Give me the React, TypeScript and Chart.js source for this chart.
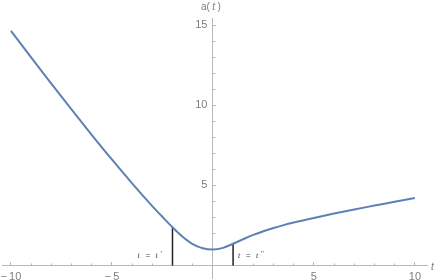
import React, { useEffect, useRef } from "react";
import { Chart, registerables } from "chart.js";

Chart.register(...registerables);

// curve a(t)
const tValues = [-10, -9, -8, -7, -6, -5, -4, -3, -2.5, -2, -1.5, -1, -0.5, 0, 0.5, 1, 1.5, 2, 2.5, 3, 3.5, 4, 5, 6, 7, 8, 9, 10];
const aValues = [14.65, 12.99, 11.35, 9.74, 8.16, 6.62, 5.13, 3.71, 3.04, 2.39, 1.8, 1.34, 1.08, 1.0, 1.1, 1.36, 1.64, 1.91, 2.14, 2.34, 2.52, 2.68, 2.97, 3.24, 3.5, 3.74, 3.98, 4.22];

// marker lines t = t', t = t''
const markerT = [-2, 1];
const markerA = [2.39, 1.36];
const markerLabels = [["t", "=", "t", "'"], ["t", "=", "t", "''"]];

const xMajorTicks = [-10, -5, 5, 10];
const yMajorTicks = [5, 10, 15];

const AXIS = "#b8b8b8";
const LABEL = "#7d7d7d";
const CURVE = "#5E81B5";

const fmt = (v: number) => (v < 0 ? "\u2212\u2009" + Math.abs(v) : String(v));

export default function App() {
  const ref = useRef<HTMLCanvasElement>(null);

  useEffect(() => {
    const canvas = ref.current;
    if (!canvas) return;
    const zeroPad = (s: any) => {
      s.paddingTop = 0;
      s.paddingBottom = 0;
      s.paddingLeft = 0;
      s.paddingRight = 0;
    };
    const xMin = -10.44;
    const xMax = 10.6;
    const yMin = -0.78;
    const yMax = 15.45;

    const textPlugin = {
      id: "texts",
      afterDraw(chart: any) {
        const { ctx, scales } = chart;
        const xs = scales.x;
        const ys = scales.y;
        const x0 = xs.getPixelForValue(0);
        ctx.save();
        ctx.fillStyle = LABEL;
        ctx.textBaseline = "middle";
        // y axis label a( t )
        ctx.font = "10px 'Liberation Sans'";
        ctx.textAlign = "left";
        let px = x0 - 12;
        const py = 7;
        ctx.fillText("a(", px, py);
        px += ctx.measureText("a(").width + 2.5;
        ctx.font = "italic 10px 'Liberation Sans'";
        ctx.fillText("t", px, py);
        px += ctx.measureText("t").width + 2.5;
        ctx.font = "10px 'Liberation Sans'";
        ctx.fillText(")", px, py);
        // x axis label t
        ctx.font = "italic 10px 'Liberation Sans'";
        ctx.fillText("t", xs.right + 4, ys.getPixelForValue(0) + 2);
        // marker labels
        ctx.fillStyle = "#444";
        const yLab = ys.getPixelForValue(0) - 10;
        markerT.forEach((t, i) => {
          const parts = markerLabels[i];
          const start = i === 0 ? xs.getPixelForValue(t) - 35 : xs.getPixelForValue(t) + 5;
          const offs = [0, 8, 18, 23];
          parts.forEach((p, j) => {
            ctx.font = j === 1 ? "8px 'Liberation Sans'" : j === 3 ? "7px 'Liberation Sans'" : "italic 8px 'Liberation Serif'";
            ctx.fillText(p, start + offs[j], yLab + (j === 3 ? -1 : 0));
          });
        });
        ctx.restore();
      },
    };

    const chart = new Chart(canvas, {
      type: "line",
      data: {
        datasets: [
          {
            data: tValues.map((t, i) => ({ x: t, y: aValues[i] })),
            borderColor: CURVE,
            borderWidth: 2,
            pointRadius: 0,
            cubicInterpolationMode: "monotone",
            xAxisID: "x",
            yAxisID: "y",
          },
          ...markerT.map((t, i) => ({
            data: [
              { x: t, y: 0 },
              { x: t, y: markerA[i] },
            ],
            borderColor: "#222",
            borderWidth: 1.5,
            pointRadius: 0,
            xAxisID: "x",
            yAxisID: "y",
          })),
        ],
      },
      options: {
        animation: false,
        responsive: false,
        layout: { padding: { left: 2, right: 11, top: 18, bottom: 2 } },
        plugins: { legend: { display: false }, tooltip: { enabled: false } },
        scales: {
          x: {
            type: "linear",
            min: xMin,
            max: xMax,
            position: { y: 0 },
            afterFit: zeroPad,
            ticks: {
              stepSize: 5,
              includeBounds: false,
              autoSkip: false,
              maxRotation: 0,
              padding: 9,
              color: LABEL,
              font: { family: "Liberation Sans", size: 11 },
              callback: (v: any) => (xMajorTicks.includes(Number(v)) ? fmt(Number(v)) : ""),
            },
            grid: { drawOnChartArea: false, drawTicks: true, tickLength: -4, tickColor: AXIS },
            border: { display: true, color: AXIS, width: 1 },
          },
          x2: {
            type: "linear",
            min: xMin,
            max: xMax,
            position: { y: 0 },
            afterFit: zeroPad,
            ticks: { stepSize: 1, includeBounds: false, autoSkip: false, display: false },
            grid: { drawOnChartArea: false, drawTicks: true, tickLength: -2.5, tickColor: AXIS },
            border: { display: false },
          },
          y: {
            type: "linear",
            min: yMin,
            max: yMax,
            position: { x: 0 },
            afterFit: zeroPad,
            ticks: {
              stepSize: 5,
              includeBounds: false,
              autoSkip: false,
              padding: 9,
              color: LABEL,
              font: { family: "Liberation Sans", size: 11 },
              callback: (v: any) => (yMajorTicks.includes(Number(v)) ? String(v) + "\u2002" : ""),
            },
            grid: { drawOnChartArea: false, drawTicks: true, tickLength: -4, tickColor: AXIS },
            border: { display: true, color: AXIS, width: 1 },
          },
          y2: {
            type: "linear",
            min: yMin,
            max: yMax,
            position: { x: 0 },
            afterFit: zeroPad,
            ticks: { stepSize: 1, includeBounds: false, autoSkip: false, display: false },
            grid: { drawOnChartArea: false, drawTicks: true, tickLength: -2.5, tickColor: AXIS },
            border: { display: false },
          },
        },
      },
      plugins: [textPlugin],
    } as any);

    return () => chart.destroy();
  }, []);

  return (
    <div style={{ position: "fixed", left: 0, top: 0, width: 438, height: 280, background: "#fff" }}>
      <canvas ref={ref} width={438} height={280} style={{ display: "block" }} />
    </div>
  );
}
